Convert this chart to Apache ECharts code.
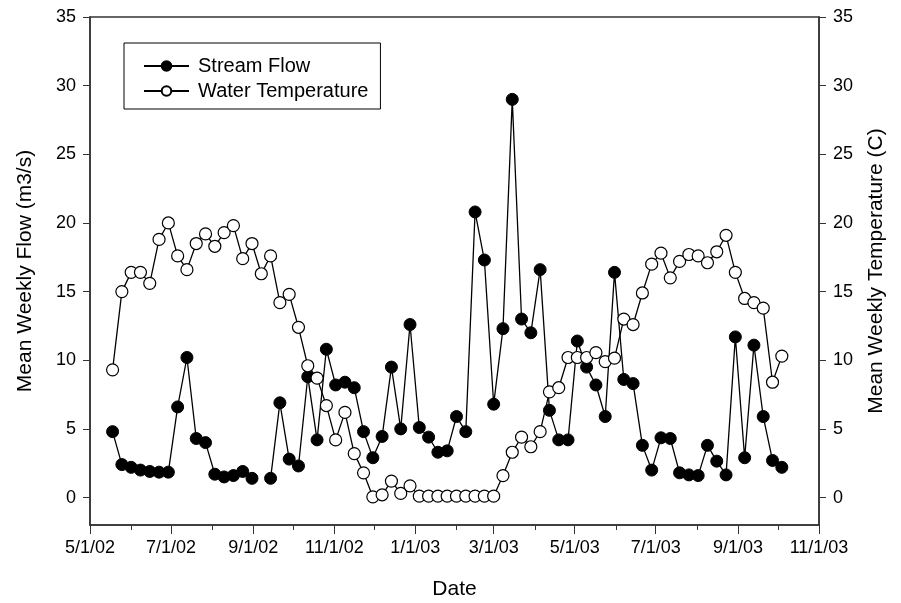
<!DOCTYPE html>
<html>
<head>
<meta charset="utf-8">
<script src="https://cdn.jsdelivr.net/npm/echarts@6/dist/echarts.min.js"></script>
<style>
  html, body { margin: 0; padding: 0; background: #fff; }
  #chart { width: 901px; height: 603px; }
</style>
</head>
<body>
<div id="chart"></div>
<script>
// weekly sample dates (M/D/YY)
var dates = [
  '5/18/02','5/25/02','6/1/02','6/8/02','6/15/02','6/22/02','6/29/02','7/6/02','7/13/02','7/20/02',
  '7/27/02','8/3/02','8/10/02','8/17/02','8/24/02','8/31/02','9/7/02','9/14/02','9/21/02','9/28/02',
  '10/5/02','10/12/02','10/19/02','10/26/02','11/2/02','11/9/02','11/16/02','11/23/02','11/30/02','12/7/02',
  '12/14/02','12/21/02','12/28/02','1/4/03','1/11/03','1/18/03','1/25/03','2/1/03','2/8/03','2/15/03',
  '2/22/03','3/1/03','3/8/03','3/15/03','3/22/03','3/29/03','4/5/03','4/12/03','4/19/03','4/26/03',
  '5/3/03','5/10/03','5/17/03','5/24/03','5/31/03','6/7/03','6/14/03','6/21/03','6/28/03','7/5/03',
  '7/12/03','7/19/03','7/26/03','8/2/03','8/9/03','8/16/03','8/23/03','8/30/03','9/6/03','9/13/03',
  '9/20/03','9/27/03','10/4/03'
];

// mean weekly flow, m3/s (null = missing week)
var streamFlow = [
  4.8, 2.4, 2.2, 2.0, 1.9, 1.85, 1.85, 6.6, 10.2, 4.3,
  4.0, 1.7, 1.5, 1.6, 1.9, 1.4, null, 1.4, 6.9, 2.8,
  2.3, 8.8, 4.2, 10.8, 8.2, 8.4, 8.0, 4.8, 2.9, 4.45,
  9.5, 5.0, 12.6, 5.1, 4.4, 3.3, 3.4, 5.9, 4.8, 20.8,
  17.3, 6.8, 12.3, 29.0, 13.0, 12.0, 16.6, 6.35, 4.2, 4.2,
  11.4, 9.5, 8.2, 5.9, 16.4, 8.6, 8.3, 3.8, 2.0, 4.35,
  4.3, 1.8, 1.65, 1.6, 3.8, 2.65, 1.65, 11.7, 2.9, 11.1,
  5.9, 2.7, 2.2
];

// mean weekly water temperature, C
var waterTemp = [
  9.3, 15.0, 16.4, 16.4, 15.6, 18.8, 20.0, 17.6, 16.6, 18.5,
  19.2, 18.3, 19.3, 19.8, 17.4, 18.5, 16.3, 17.6, 14.2, 14.8,
  12.4, 9.6, 8.7, 6.7, 4.2, 6.2, 3.2, 1.8, 0.05, 0.2,
  1.2, 0.3, 0.85, 0.1, 0.1, 0.1, 0.1, 0.1, 0.1, 0.1,
  0.1, 0.1, 1.6, 3.3, 4.4, 3.7, 4.8, 7.7, 8.0, 10.2,
  10.2, 10.2, 10.55, 9.9, 10.15, 13.0, 12.6, 14.9, 17.0, 17.8,
  16.0, 17.2, 17.7, 17.6, 17.1, 17.9, 19.1, 16.4, 14.5, 14.2,
  13.8, 8.4, 10.3
];

var xTickLabels = ['5/1/02','7/1/02','9/1/02','11/1/02','1/1/03','3/1/03','5/1/03','7/1/03','9/1/03','11/1/03'];
var yTicks = [0, 5, 10, 15, 20, 25, 30, 35];

function parseDate(s) {
  var p = s.split('/');
  return new Date(2000 + (+p[2]), +p[0] - 1, +p[1]).getTime();
}
function fmtDate(v) {
  var d = new Date(v);
  return (d.getMonth() + 1) + '/' + d.getDate() + '/' + String(d.getFullYear()).slice(2);
}

var xMin = parseDate(xTickLabels[0]);
var xMax = parseDate(xTickLabels[xTickLabels.length - 1]);
var majorTicks = xTickLabels.map(parseDate);
var minorTicks = [];
for (var m = 0; m <= 18; m++) {
  minorTicks.push(new Date(2002, 4 + m, 1).getTime());
}

var flowData = dates.map(function (d, i) { return [parseDate(d), streamFlow[i]]; });
var tempData = dates.map(function (d, i) { return [parseDate(d), waterTemp[i]]; });

var font = 'Liberation Sans, Arial, sans-serif';
var axisColor = '#333';

var chart = echarts.init(document.getElementById('chart'));

var yAxisBase = {
  type: 'value',
  min: -2,
  max: 35,
  nameLocation: 'middle',
  nameTextStyle: { fontSize: 21, color: '#000', fontFamily: font },
  axisLine: { show: true, onZero: false, lineStyle: { color: axisColor, width: 1.5 } },
  axisTick: { show: true, inside: false, length: 7, customValues: yTicks, lineStyle: { color: axisColor } },
  axisLabel: { customValues: yTicks, fontSize: 18, color: '#000', fontFamily: font, margin: 14 },
  splitLine: { show: false }
};

option = {
  animation: false,
  backgroundColor: '#fff',
  textStyle: { fontFamily: font },
  grid: {
    left: 90,
    right: 82,
    top: 17,
    bottom: 78,
    outerBoundsMode: 'none',
    containLabel: false,
    show: true,
    borderColor: axisColor,
    borderWidth: 1.5
  },
  legend: {
    orient: 'vertical',
    left: 124,
    top: 43,
    padding: [13, 12, 8, 19],
    itemGap: 5,
    itemWidth: 45,
    itemHeight: 12,
    borderColor: '#000',
    borderWidth: 1,
    textStyle: { fontSize: 20, color: '#000', fontFamily: font, padding: [0, 0, 0, 4] },
    data: ['Stream Flow', 'Water Temperature']
  },
  xAxis: [
    {
      type: 'value',
      min: xMin,
      max: xMax,
      name: 'Date',
      nameLocation: 'middle',
      nameGap: 54,
      nameTextStyle: { fontSize: 21, color: '#000', fontFamily: font },
      axisLine: { onZero: false, lineStyle: { color: axisColor, width: 1.5 } },
      axisTick: { show: true, length: 9, customValues: majorTicks, lineStyle: { color: axisColor } },
      axisLabel: {
        customValues: majorTicks,
        formatter: function (v) { return fmtDate(v); },
        fontSize: 18,
        color: '#000',
        fontFamily: font,
        margin: 14,
        hideOverlap: false
      },
      splitLine: { show: false }
    },
    {
      type: 'value',
      min: xMin,
      max: xMax,
      position: 'bottom',
      axisLine: { show: false, onZero: false },
      axisTick: { show: true, length: 5, customValues: minorTicks, lineStyle: { color: axisColor } },
      axisLabel: { show: false },
      splitLine: { show: false }
    }
  ],
  yAxis: [
    Object.assign({}, yAxisBase, { name: 'Mean Weekly Flow (m3/s)', nameGap: 54, position: 'left' }),
    Object.assign({}, yAxisBase, { name: 'Mean Weekly Temperature (C)', nameGap: 47, position: 'right' })
  ],
  series: [
    {
      name: 'Stream Flow',
      type: 'line',
      xAxisIndex: 0,
      yAxisIndex: 0,
      data: flowData,
      connectNulls: false,
      symbol: 'circle',
      symbolSize: 12,
      lineStyle: { color: '#000', width: 1.3 },
      itemStyle: { color: '#000', borderColor: '#000', borderWidth: 1 }
    },
    {
      name: 'Water Temperature',
      type: 'line',
      xAxisIndex: 0,
      yAxisIndex: 1,
      data: tempData,
      symbol: 'circle',
      symbolSize: 12,
      lineStyle: { color: '#000', width: 1.3 },
      itemStyle: { color: '#fff', borderColor: '#000', borderWidth: 1.2 }
    }
  ]
};

chart.setOption(option);
</script>
</body>
</html>
